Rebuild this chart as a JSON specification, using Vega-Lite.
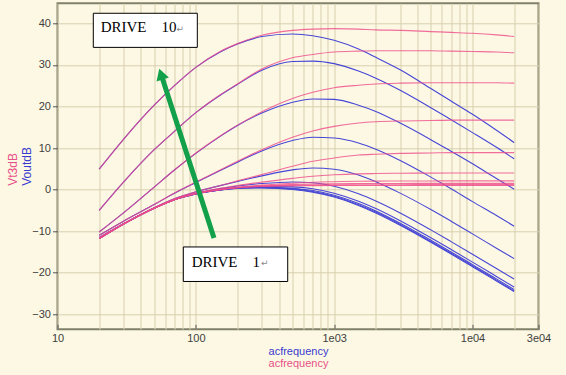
{
"$schema":"https://vega.github.io/schema/vega-lite/v6.json",
"width":481,"height":326,"autosize":"none",
"padding":{"left":57.5,"top":3.3,"right":27.5,"bottom":45.7},
"background":"#fdf8e3",
"config":{"view":{"stroke":"#80806a","strokeWidth":2},"font":"Liberation Sans"},
"datasets":{
"curves":[
{"f":20,"d":10,"s":"Vt3dB","v":4.9},{"f":30,"d":10,"s":"Vt3dB","v":12.1},{"f":50,"d":10,"s":"Vt3dB","v":20.3},{"f":70,"d":10,"s":"Vt3dB","v":25.0},{"f":100,"d":10,"s":"Vt3dB","v":29.4},{"f":150,"d":10,"s":"Vt3dB","v":33.2},{"f":200,"d":10,"s":"Vt3dB","v":35.1},{"f":300,"d":10,"s":"Vt3dB","v":37.1},{"f":500,"d":10,"s":"Vt3dB","v":38.3},{"f":700,"d":10,"s":"Vt3dB","v":38.6},{"f":1000,"d":10,"s":"Vt3dB","v":38.7},{"f":1500,"d":10,"s":"Vt3dB","v":38.6},{"f":2000,"d":10,"s":"Vt3dB","v":38.4},{"f":3000,"d":10,"s":"Vt3dB","v":38.3},{"f":5000,"d":10,"s":"Vt3dB","v":38.0},{"f":7000,"d":10,"s":"Vt3dB","v":37.8},{"f":10000,"d":10,"s":"Vt3dB","v":37.6},{"f":15000,"d":10,"s":"Vt3dB","v":37.2},{"f":20000,"d":10,"s":"Vt3dB","v":36.8},
{"f":20,"d":10,"s":"VoutdB","v":4.9},{"f":30,"d":10,"s":"VoutdB","v":12.1},{"f":50,"d":10,"s":"VoutdB","v":20.3},{"f":70,"d":10,"s":"VoutdB","v":25.0},{"f":100,"d":10,"s":"VoutdB","v":29.4},{"f":150,"d":10,"s":"VoutdB","v":33.1},{"f":200,"d":10,"s":"VoutdB","v":35.0},{"f":300,"d":10,"s":"VoutdB","v":36.8},{"f":500,"d":10,"s":"VoutdB","v":37.4},{"f":700,"d":10,"s":"VoutdB","v":37.0},{"f":1000,"d":10,"s":"VoutdB","v":35.9},{"f":1500,"d":10,"s":"VoutdB","v":33.8},{"f":2000,"d":10,"s":"VoutdB","v":31.8},{"f":3000,"d":10,"s":"VoutdB","v":28.8},{"f":5000,"d":10,"s":"VoutdB","v":24.3},{"f":7000,"d":10,"s":"VoutdB","v":21.3},{"f":10000,"d":10,"s":"VoutdB","v":18.1},{"f":15000,"d":10,"s":"VoutdB","v":14.2},{"f":20000,"d":10,"s":"VoutdB","v":11.3},
{"f":20,"d":9,"s":"Vt3dB","v":-5.0},{"f":30,"d":9,"s":"Vt3dB","v":1.8},{"f":50,"d":9,"s":"Vt3dB","v":9.6},{"f":70,"d":9,"s":"Vt3dB","v":14.0},{"f":100,"d":9,"s":"Vt3dB","v":18.5},{"f":150,"d":9,"s":"Vt3dB","v":22.8},{"f":200,"d":9,"s":"Vt3dB","v":25.4},{"f":300,"d":9,"s":"Vt3dB","v":29.0},{"f":500,"d":9,"s":"Vt3dB","v":31.7},{"f":700,"d":9,"s":"Vt3dB","v":32.5},{"f":1000,"d":9,"s":"Vt3dB","v":33.1},{"f":1500,"d":9,"s":"Vt3dB","v":33.3},{"f":2000,"d":9,"s":"Vt3dB","v":33.4},{"f":3000,"d":9,"s":"Vt3dB","v":33.4},{"f":5000,"d":9,"s":"Vt3dB","v":33.4},{"f":7000,"d":9,"s":"Vt3dB","v":33.3},{"f":10000,"d":9,"s":"Vt3dB","v":33.2},{"f":15000,"d":9,"s":"Vt3dB","v":33.1},{"f":20000,"d":9,"s":"Vt3dB","v":32.9},
{"f":20,"d":9,"s":"VoutdB","v":-5.0},{"f":30,"d":9,"s":"VoutdB","v":1.8},{"f":50,"d":9,"s":"VoutdB","v":9.6},{"f":70,"d":9,"s":"VoutdB","v":14.0},{"f":100,"d":9,"s":"VoutdB","v":18.5},{"f":150,"d":9,"s":"VoutdB","v":22.7},{"f":200,"d":9,"s":"VoutdB","v":25.3},{"f":300,"d":9,"s":"VoutdB","v":28.7},{"f":500,"d":9,"s":"VoutdB","v":30.8},{"f":700,"d":9,"s":"VoutdB","v":30.9},{"f":1000,"d":9,"s":"VoutdB","v":30.3},{"f":1500,"d":9,"s":"VoutdB","v":28.5},{"f":2000,"d":9,"s":"VoutdB","v":26.8},{"f":3000,"d":9,"s":"VoutdB","v":23.9},{"f":5000,"d":9,"s":"VoutdB","v":19.7},{"f":7000,"d":9,"s":"VoutdB","v":16.8},{"f":10000,"d":9,"s":"VoutdB","v":13.7},{"f":15000,"d":9,"s":"VoutdB","v":10.1},{"f":20000,"d":9,"s":"VoutdB","v":7.4},
{"f":20,"d":8,"s":"Vt3dB","v":-10.2},{"f":30,"d":8,"s":"Vt3dB","v":-5.6},{"f":50,"d":8,"s":"Vt3dB","v":0.6},{"f":70,"d":8,"s":"Vt3dB","v":4.7},{"f":100,"d":8,"s":"Vt3dB","v":8.8},{"f":150,"d":8,"s":"Vt3dB","v":12.9},{"f":200,"d":8,"s":"Vt3dB","v":15.5},{"f":300,"d":8,"s":"Vt3dB","v":18.7},{"f":500,"d":8,"s":"Vt3dB","v":21.9},{"f":700,"d":8,"s":"Vt3dB","v":23.4},{"f":1000,"d":8,"s":"Vt3dB","v":24.5},{"f":1500,"d":8,"s":"Vt3dB","v":25.1},{"f":2000,"d":8,"s":"Vt3dB","v":25.4},{"f":3000,"d":8,"s":"Vt3dB","v":25.6},{"f":5000,"d":8,"s":"Vt3dB","v":25.7},{"f":7000,"d":8,"s":"Vt3dB","v":25.7},{"f":10000,"d":8,"s":"Vt3dB","v":25.7},{"f":15000,"d":8,"s":"Vt3dB","v":25.7},{"f":20000,"d":8,"s":"Vt3dB","v":25.6},
{"f":20,"d":8,"s":"VoutdB","v":-10.2},{"f":30,"d":8,"s":"VoutdB","v":-5.6},{"f":50,"d":8,"s":"VoutdB","v":0.6},{"f":70,"d":8,"s":"VoutdB","v":4.7},{"f":100,"d":8,"s":"VoutdB","v":8.7},{"f":150,"d":8,"s":"VoutdB","v":12.8},{"f":200,"d":8,"s":"VoutdB","v":15.4},{"f":300,"d":8,"s":"VoutdB","v":18.4},{"f":500,"d":8,"s":"VoutdB","v":21.0},{"f":700,"d":8,"s":"VoutdB","v":21.8},{"f":1000,"d":8,"s":"VoutdB","v":21.7},{"f":1500,"d":8,"s":"VoutdB","v":20.3},{"f":2000,"d":8,"s":"VoutdB","v":18.8},{"f":3000,"d":8,"s":"VoutdB","v":16.0},{"f":5000,"d":8,"s":"VoutdB","v":12.0},{"f":7000,"d":8,"s":"VoutdB","v":9.2},{"f":10000,"d":8,"s":"VoutdB","v":6.2},{"f":15000,"d":8,"s":"VoutdB","v":2.6},{"f":20000,"d":8,"s":"VoutdB","v":0.1},
{"f":20,"d":7,"s":"Vt3dB","v":-11.0},{"f":30,"d":7,"s":"Vt3dB","v":-7.6},{"f":50,"d":7,"s":"Vt3dB","v":-3.6},{"f":70,"d":7,"s":"Vt3dB","v":-0.8},{"f":100,"d":7,"s":"Vt3dB","v":1.8},{"f":150,"d":7,"s":"Vt3dB","v":4.7},{"f":200,"d":7,"s":"Vt3dB","v":6.8},{"f":300,"d":7,"s":"Vt3dB","v":9.6},{"f":500,"d":7,"s":"Vt3dB","v":12.6},{"f":700,"d":7,"s":"Vt3dB","v":14.1},{"f":1000,"d":7,"s":"Vt3dB","v":15.2},{"f":1500,"d":7,"s":"Vt3dB","v":16.0},{"f":2000,"d":7,"s":"Vt3dB","v":16.3},{"f":3000,"d":7,"s":"Vt3dB","v":16.5},{"f":5000,"d":7,"s":"Vt3dB","v":16.6},{"f":7000,"d":7,"s":"Vt3dB","v":16.7},{"f":10000,"d":7,"s":"Vt3dB","v":16.7},{"f":15000,"d":7,"s":"Vt3dB","v":16.7},{"f":20000,"d":7,"s":"Vt3dB","v":16.7},
{"f":20,"d":7,"s":"VoutdB","v":-11.0},{"f":30,"d":7,"s":"VoutdB","v":-7.6},{"f":50,"d":7,"s":"VoutdB","v":-3.6},{"f":70,"d":7,"s":"VoutdB","v":-0.9},{"f":100,"d":7,"s":"VoutdB","v":1.7},{"f":150,"d":7,"s":"VoutdB","v":4.6},{"f":200,"d":7,"s":"VoutdB","v":6.6},{"f":300,"d":7,"s":"VoutdB","v":9.3},{"f":500,"d":7,"s":"VoutdB","v":11.8},{"f":700,"d":7,"s":"VoutdB","v":12.6},{"f":1000,"d":7,"s":"VoutdB","v":12.4},{"f":1500,"d":7,"s":"VoutdB","v":11.2},{"f":2000,"d":7,"s":"VoutdB","v":9.7},{"f":3000,"d":7,"s":"VoutdB","v":7.0},{"f":5000,"d":7,"s":"VoutdB","v":3.0},{"f":7000,"d":7,"s":"VoutdB","v":0.2},{"f":10000,"d":7,"s":"VoutdB","v":-2.9},{"f":15000,"d":7,"s":"VoutdB","v":-6.3},{"f":20000,"d":7,"s":"VoutdB","v":-8.8},
{"f":20,"d":6,"s":"Vt3dB","v":-11.5},{"f":30,"d":6,"s":"Vt3dB","v":-8.2},{"f":50,"d":6,"s":"Vt3dB","v":-4.35},{"f":70,"d":6,"s":"Vt3dB","v":-2.2},{"f":100,"d":6,"s":"Vt3dB","v":-0.5},{"f":150,"d":6,"s":"Vt3dB","v":1.0},{"f":200,"d":6,"s":"Vt3dB","v":2.1},{"f":300,"d":6,"s":"Vt3dB","v":3.6},{"f":500,"d":6,"s":"Vt3dB","v":5.6},{"f":700,"d":6,"s":"Vt3dB","v":6.8},{"f":1000,"d":6,"s":"Vt3dB","v":7.6},{"f":1500,"d":6,"s":"Vt3dB","v":8.3},{"f":2000,"d":6,"s":"Vt3dB","v":8.5},{"f":3000,"d":6,"s":"Vt3dB","v":8.7},{"f":5000,"d":6,"s":"Vt3dB","v":8.8},{"f":7000,"d":6,"s":"Vt3dB","v":8.9},{"f":10000,"d":6,"s":"Vt3dB","v":8.9},{"f":15000,"d":6,"s":"Vt3dB","v":8.9},{"f":20000,"d":6,"s":"Vt3dB","v":8.9},
{"f":20,"d":6,"s":"VoutdB","v":-11.5},{"f":30,"d":6,"s":"VoutdB","v":-8.2},{"f":50,"d":6,"s":"VoutdB","v":-4.35},{"f":70,"d":6,"s":"VoutdB","v":-2.2},{"f":100,"d":6,"s":"VoutdB","v":-0.55},{"f":150,"d":6,"s":"VoutdB","v":0.95},{"f":200,"d":6,"s":"VoutdB","v":1.95},{"f":300,"d":6,"s":"VoutdB","v":3.3},{"f":500,"d":6,"s":"VoutdB","v":4.75},{"f":700,"d":6,"s":"VoutdB","v":5.2},{"f":1000,"d":6,"s":"VoutdB","v":4.9},{"f":1500,"d":6,"s":"VoutdB","v":3.5},{"f":2000,"d":6,"s":"VoutdB","v":1.9},{"f":3000,"d":6,"s":"VoutdB","v":-0.85},{"f":5000,"d":6,"s":"VoutdB","v":-4.8},{"f":7000,"d":6,"s":"VoutdB","v":-7.6},{"f":10000,"d":6,"s":"VoutdB","v":-10.65},{"f":15000,"d":6,"s":"VoutdB","v":-14.15},{"f":20000,"d":6,"s":"VoutdB","v":-16.6},
{"f":20,"d":5,"s":"Vt3dB","v":-11.8},{"f":30,"d":5,"s":"Vt3dB","v":-8.28},{"f":50,"d":5,"s":"Vt3dB","v":-4.45},{"f":70,"d":5,"s":"Vt3dB","v":-2.35},{"f":100,"d":5,"s":"Vt3dB","v":-0.84},{"f":150,"d":5,"s":"Vt3dB","v":0.33},{"f":200,"d":5,"s":"Vt3dB","v":1.0},{"f":300,"d":5,"s":"Vt3dB","v":1.8},{"f":500,"d":5,"s":"Vt3dB","v":2.7},{"f":700,"d":5,"s":"Vt3dB","v":3.2},{"f":1000,"d":5,"s":"Vt3dB","v":3.55},{"f":1500,"d":5,"s":"Vt3dB","v":3.78},{"f":2000,"d":5,"s":"Vt3dB","v":3.86},{"f":3000,"d":5,"s":"Vt3dB","v":3.94},{"f":5000,"d":5,"s":"Vt3dB","v":3.97},{"f":7000,"d":5,"s":"Vt3dB","v":3.98},{"f":10000,"d":5,"s":"Vt3dB","v":3.99},{"f":15000,"d":5,"s":"Vt3dB","v":4.0},{"f":20000,"d":5,"s":"Vt3dB","v":4.0},
{"f":20,"d":5,"s":"VoutdB","v":-11.8},{"f":30,"d":5,"s":"VoutdB","v":-8.28},{"f":50,"d":5,"s":"VoutdB","v":-4.45},{"f":70,"d":5,"s":"VoutdB","v":-2.37},{"f":100,"d":5,"s":"VoutdB","v":-0.88},{"f":150,"d":5,"s":"VoutdB","v":0.24},{"f":200,"d":5,"s":"VoutdB","v":0.86},{"f":300,"d":5,"s":"VoutdB","v":1.46},{"f":500,"d":5,"s":"VoutdB","v":1.84},{"f":700,"d":5,"s":"VoutdB","v":1.65},{"f":1000,"d":5,"s":"VoutdB","v":0.79},{"f":1500,"d":5,"s":"VoutdB","v":-1.0},{"f":2000,"d":5,"s":"VoutdB","v":-2.73},{"f":3000,"d":5,"s":"VoutdB","v":-5.61},{"f":5000,"d":5,"s":"VoutdB","v":-9.69},{"f":7000,"d":5,"s":"VoutdB","v":-12.51},{"f":10000,"d":5,"s":"VoutdB","v":-15.55},{"f":15000,"d":5,"s":"VoutdB","v":-19.04},{"f":20000,"d":5,"s":"VoutdB","v":-21.53},
{"f":20,"d":4,"s":"Vt3dB","v":-11.8},{"f":30,"d":4,"s":"Vt3dB","v":-8.29},{"f":50,"d":4,"s":"Vt3dB","v":-4.48},{"f":70,"d":4,"s":"Vt3dB","v":-2.41},{"f":100,"d":4,"s":"Vt3dB","v":-0.96},{"f":150,"d":4,"s":"Vt3dB","v":0.08},{"f":200,"d":4,"s":"Vt3dB","v":0.61},{"f":300,"d":4,"s":"Vt3dB","v":1.08},{"f":500,"d":4,"s":"Vt3dB","v":1.53},{"f":700,"d":4,"s":"Vt3dB","v":1.77},{"f":1000,"d":4,"s":"Vt3dB","v":1.9},{"f":1500,"d":4,"s":"Vt3dB","v":2.0},{"f":2000,"d":4,"s":"Vt3dB","v":2.04},{"f":3000,"d":4,"s":"Vt3dB","v":2.07},{"f":5000,"d":4,"s":"Vt3dB","v":2.08},{"f":7000,"d":4,"s":"Vt3dB","v":2.09},{"f":10000,"d":4,"s":"Vt3dB","v":2.1},{"f":15000,"d":4,"s":"Vt3dB","v":2.1},{"f":20000,"d":4,"s":"Vt3dB","v":2.1},
{"f":20,"d":4,"s":"VoutdB","v":-11.8},{"f":30,"d":4,"s":"VoutdB","v":-8.29},{"f":50,"d":4,"s":"VoutdB","v":-4.48},{"f":70,"d":4,"s":"VoutdB","v":-2.43},{"f":100,"d":4,"s":"VoutdB","v":-1.0},{"f":150,"d":4,"s":"VoutdB","v":-0.01},{"f":200,"d":4,"s":"VoutdB","v":0.46},{"f":300,"d":4,"s":"VoutdB","v":0.75},{"f":500,"d":4,"s":"VoutdB","v":0.66},{"f":700,"d":4,"s":"VoutdB","v":0.2},{"f":1000,"d":4,"s":"VoutdB","v":-0.86},{"f":1500,"d":4,"s":"VoutdB","v":-2.78},{"f":2000,"d":4,"s":"VoutdB","v":-4.55},{"f":3000,"d":4,"s":"VoutdB","v":-7.48},{"f":5000,"d":4,"s":"VoutdB","v":-11.58},{"f":7000,"d":4,"s":"VoutdB","v":-14.4},{"f":10000,"d":4,"s":"VoutdB","v":-17.44},{"f":15000,"d":4,"s":"VoutdB","v":-20.94},{"f":20000,"d":4,"s":"VoutdB","v":-23.43},
{"f":20,"d":3,"s":"Vt3dB","v":-11.8},{"f":30,"d":3,"s":"Vt3dB","v":-8.3},{"f":50,"d":3,"s":"Vt3dB","v":-4.49},{"f":70,"d":3,"s":"Vt3dB","v":-2.42},{"f":100,"d":3,"s":"Vt3dB","v":-0.99},{"f":150,"d":3,"s":"Vt3dB","v":0.02},{"f":200,"d":3,"s":"Vt3dB","v":0.5},{"f":300,"d":3,"s":"Vt3dB","v":0.89},{"f":500,"d":3,"s":"Vt3dB","v":1.2},{"f":700,"d":3,"s":"Vt3dB","v":1.34},{"f":1000,"d":3,"s":"Vt3dB","v":1.4},{"f":1500,"d":3,"s":"Vt3dB","v":1.45},{"f":2000,"d":3,"s":"Vt3dB","v":1.46},{"f":3000,"d":3,"s":"Vt3dB","v":1.48},{"f":5000,"d":3,"s":"Vt3dB","v":1.49},{"f":7000,"d":3,"s":"Vt3dB","v":1.5},{"f":10000,"d":3,"s":"Vt3dB","v":1.5},{"f":15000,"d":3,"s":"Vt3dB","v":1.5},{"f":20000,"d":3,"s":"Vt3dB","v":1.5},
{"f":20,"d":3,"s":"VoutdB","v":-11.8},{"f":30,"d":3,"s":"VoutdB","v":-8.3},{"f":50,"d":3,"s":"VoutdB","v":-4.49},{"f":70,"d":3,"s":"VoutdB","v":-2.44},{"f":100,"d":3,"s":"VoutdB","v":-1.03},{"f":150,"d":3,"s":"VoutdB","v":-0.07},{"f":200,"d":3,"s":"VoutdB","v":0.35},{"f":300,"d":3,"s":"VoutdB","v":0.56},{"f":500,"d":3,"s":"VoutdB","v":0.33},{"f":700,"d":3,"s":"VoutdB","v":-0.23},{"f":1000,"d":3,"s":"VoutdB","v":-1.36},{"f":1500,"d":3,"s":"VoutdB","v":-3.33},{"f":2000,"d":3,"s":"VoutdB","v":-5.13},{"f":3000,"d":3,"s":"VoutdB","v":-8.07},{"f":5000,"d":3,"s":"VoutdB","v":-12.17},{"f":7000,"d":3,"s":"VoutdB","v":-14.99},{"f":10000,"d":3,"s":"VoutdB","v":-18.04},{"f":15000,"d":3,"s":"VoutdB","v":-21.54},{"f":20000,"d":3,"s":"VoutdB","v":-24.03},
{"f":20,"d":2,"s":"Vt3dB","v":-11.8},{"f":30,"d":2,"s":"Vt3dB","v":-8.3},{"f":50,"d":2,"s":"Vt3dB","v":-4.49},{"f":70,"d":2,"s":"Vt3dB","v":-2.43},{"f":100,"d":2,"s":"Vt3dB","v":-1.0},{"f":150,"d":2,"s":"Vt3dB","v":0.0},{"f":200,"d":2,"s":"Vt3dB","v":0.46},{"f":300,"d":2,"s":"Vt3dB","v":0.81},{"f":500,"d":2,"s":"Vt3dB","v":1.04},{"f":700,"d":2,"s":"Vt3dB","v":1.1},{"f":1000,"d":2,"s":"Vt3dB","v":1.14},{"f":1500,"d":2,"s":"Vt3dB","v":1.16},{"f":2000,"d":2,"s":"Vt3dB","v":1.17},{"f":3000,"d":2,"s":"Vt3dB","v":1.18},{"f":5000,"d":2,"s":"Vt3dB","v":1.19},{"f":7000,"d":2,"s":"Vt3dB","v":1.2},{"f":10000,"d":2,"s":"Vt3dB","v":1.2},{"f":15000,"d":2,"s":"Vt3dB","v":1.2},{"f":20000,"d":2,"s":"Vt3dB","v":1.2},
{"f":20,"d":2,"s":"VoutdB","v":-11.8},{"f":30,"d":2,"s":"VoutdB","v":-8.3},{"f":50,"d":2,"s":"VoutdB","v":-4.49},{"f":70,"d":2,"s":"VoutdB","v":-2.45},{"f":100,"d":2,"s":"VoutdB","v":-1.04},{"f":150,"d":2,"s":"VoutdB","v":-0.09},{"f":200,"d":2,"s":"VoutdB","v":0.31},{"f":300,"d":2,"s":"VoutdB","v":0.48},{"f":500,"d":2,"s":"VoutdB","v":0.17},{"f":700,"d":2,"s":"VoutdB","v":-0.47},{"f":1000,"d":2,"s":"VoutdB","v":-1.62},{"f":1500,"d":2,"s":"VoutdB","v":-3.62},{"f":2000,"d":2,"s":"VoutdB","v":-5.42},{"f":3000,"d":2,"s":"VoutdB","v":-8.37},{"f":5000,"d":2,"s":"VoutdB","v":-12.47},{"f":7000,"d":2,"s":"VoutdB","v":-15.29},{"f":10000,"d":2,"s":"VoutdB","v":-18.34},{"f":15000,"d":2,"s":"VoutdB","v":-21.84},{"f":20000,"d":2,"s":"VoutdB","v":-24.33},
{"f":20,"d":1,"s":"Vt3dB","v":-11.8},{"f":30,"d":1,"s":"Vt3dB","v":-8.3},{"f":50,"d":1,"s":"Vt3dB","v":-4.5},{"f":70,"d":1,"s":"Vt3dB","v":-2.43},{"f":100,"d":1,"s":"Vt3dB","v":-1.01},{"f":150,"d":1,"s":"Vt3dB","v":-0.02},{"f":200,"d":1,"s":"Vt3dB","v":0.43},{"f":300,"d":1,"s":"Vt3dB","v":0.75},{"f":500,"d":1,"s":"Vt3dB","v":0.9},{"f":700,"d":1,"s":"Vt3dB","v":0.95},{"f":1000,"d":1,"s":"Vt3dB","v":0.97},{"f":1500,"d":1,"s":"Vt3dB","v":0.98},{"f":2000,"d":1,"s":"Vt3dB","v":0.98},{"f":3000,"d":1,"s":"Vt3dB","v":0.99},{"f":5000,"d":1,"s":"Vt3dB","v":1.0},{"f":7000,"d":1,"s":"Vt3dB","v":1.0},{"f":10000,"d":1,"s":"Vt3dB","v":1.0},{"f":15000,"d":1,"s":"Vt3dB","v":1.0},{"f":20000,"d":1,"s":"Vt3dB","v":1.0},
{"f":20,"d":1,"s":"VoutdB","v":-11.8},{"f":30,"d":1,"s":"VoutdB","v":-8.3},{"f":50,"d":1,"s":"VoutdB","v":-4.5},{"f":70,"d":1,"s":"VoutdB","v":-2.45},{"f":100,"d":1,"s":"VoutdB","v":-1.05},{"f":150,"d":1,"s":"VoutdB","v":-0.11},{"f":200,"d":1,"s":"VoutdB","v":0.28},{"f":300,"d":1,"s":"VoutdB","v":0.42},{"f":500,"d":1,"s":"VoutdB","v":0.03},{"f":700,"d":1,"s":"VoutdB","v":-0.62},{"f":1000,"d":1,"s":"VoutdB","v":-1.79},{"f":1500,"d":1,"s":"VoutdB","v":-3.8},{"f":2000,"d":1,"s":"VoutdB","v":-5.61},{"f":3000,"d":1,"s":"VoutdB","v":-8.56},{"f":5000,"d":1,"s":"VoutdB","v":-12.66},{"f":7000,"d":1,"s":"VoutdB","v":-15.49},{"f":10000,"d":1,"s":"VoutdB","v":-18.54},{"f":15000,"d":1,"s":"VoutdB","v":-22.04},{"f":20000,"d":1,"s":"VoutdB","v":-24.53}
],
"arrow":[{"f1":135.3,"v1":-11.65,"f2":56.9,"v2":27.1}],
"head":[{"f":56.0,"v":27.75}],
"boxes":[{"f1":18.15,"f2":102.5,"v1":42.4,"v2":34.2},{"f1":81.2,"f2":461.5,"v1":-13.8,"v2":-22.1}],
"labels":[{"f":20.5,"v":37.8,"t":"DRIVE　10"},{"f":93.3,"v":-18.5,"t":"DRIVE　1"}],
"returns":[{"f":72.5,"v":38.0,"t":"↵"},{"f":296,"v":-18.3,"t":"↵"}]
},
"layer":[
{"data":{"name":"curves"},"transform":[{"filter":"datum.s == 'VoutdB'"}],
 "mark":{"type":"line","color":"#4646d6","strokeWidth":1.1,"interpolate":"monotone"},
 "encoding":{
  "x":{"field":"f","type":"quantitative","scale":{"type":"log","domain":[10,30000],"nice":false},
   "axis":{"values":[10,20,30,40,50,60,70,80,90,100,200,300,400,500,600,700,800,900,1000,2000,3000,4000,5000,6000,7000,8000,9000,10000,20000,30000],
    "labelExpr":"datum.value==10?'10':datum.value==100?'100':datum.value==1000?'1e03':datum.value==10000?'1e04':datum.value==30000?'3e04':''",
    "labelOverlap":false,"labelFlush":false,"grid":true,"gridColor":"#d8cfae","gridWidth":1,"domain":false,
    "tickSize":-5,"tickColor":{"condition":{"test":"indexof([10,100,1000,10000,30000], datum.value) >= 0","value":"#555555"},"value":"transparent"},
    "labelPadding":8,"labelFontSize":11,"labelColor":"#404040",
    "title":"acfrequency","titleColor":"#3a3ad0","titleFontSize":11,"titleFontWeight":"normal","titleY":25,"titleBaseline":"alphabetic"}},
  "y":{"field":"v","type":"quantitative","scale":{"domain":[-33.6,44.8],"nice":false,"zero":false},
   "axis":{"values":[-30,-20,-10,0,10,20,30,40],"grid":true,"gridColor":"#d8cfae","domain":false,"tickSize":5,"tickColor":"#555555",
    "labelPadding":2,"labelFontSize":11,"labelColor":"#404040",
    "title":"VoutdB","titleColor":"#3a3ad0","titleFontSize":12,"titleFontWeight":"normal","titleAngle":-90,"titleX":-31,"titleY":182,"titleAlign":"left","titleBaseline":"middle"}},
  "detail":{"field":"d","type":"nominal"}}},
{"data":{"name":"curves"},"transform":[{"filter":"datum.s == 'Vt3dB'"}],
 "mark":{"type":"line","color":"#ee4a8a","strokeWidth":1.1,"opacity":0.8,"interpolate":"monotone"},
 "encoding":{
  "x":{"field":"f","type":"quantitative","scale":{"type":"log","domain":[10,30000],"nice":false},
   "axis":{"orient":"bottom","labels":false,"ticks":false,"grid":false,"domain":false,
    "title":"acfrequency","titleColor":"#e8508a","titleFontSize":11,"titleFontWeight":"normal","titleY":37,"titleBaseline":"alphabetic"}},
  "y":{"field":"v","type":"quantitative","scale":{"domain":[-33.6,44.8],"nice":false,"zero":false},
   "axis":{"orient":"left","labels":false,"ticks":false,"grid":false,"domain":false,
    "title":"Vt3dB","titleColor":"#e8508a","titleFontSize":12,"titleFontWeight":"normal","titleAngle":-90,"titleX":-45,"titleY":182,"titleAlign":"left","titleBaseline":"middle"}},
  "detail":{"field":"d","type":"nominal"}}},
{"data":{"name":"arrow"},"mark":{"type":"rule","color":"#12a04a","strokeWidth":5},
 "encoding":{"x":{"field":"f1","type":"quantitative","scale":{"type":"log","domain":[10,30000],"nice":false},"axis":null},
  "y":{"field":"v1","type":"quantitative","scale":{"domain":[-33.6,44.8],"nice":false,"zero":false},"axis":null},
  "x2":{"field":"f2"},"y2":{"field":"v2"}}},
{"data":{"name":"head"},"mark":{"type":"point","shape":"triangle-up","size":169,"angle":342,"filled":true,"color":"#12a04a","opacity":1},
 "encoding":{"x":{"field":"f","type":"quantitative","scale":{"type":"log","domain":[10,30000],"nice":false},"axis":null},
  "y":{"field":"v","type":"quantitative","scale":{"domain":[-33.6,44.8],"nice":false,"zero":false},"axis":null}}},
{"data":{"name":"boxes"},"mark":{"type":"rect","fill":"#ffffff","stroke":"#000000","strokeWidth":1},
 "encoding":{"x":{"field":"f1","type":"quantitative","scale":{"type":"log","domain":[10,30000],"nice":false},"axis":null},
  "y":{"field":"v1","type":"quantitative","scale":{"domain":[-33.6,44.8],"nice":false,"zero":false},"axis":null},
  "x2":{"field":"f2"},"y2":{"field":"v2"}}},
{"data":{"name":"labels"},"mark":{"type":"text","align":"left","baseline":"alphabetic","font":"Liberation Serif","fontSize":15,"color":"#000000"},
 "encoding":{"x":{"field":"f","type":"quantitative","scale":{"type":"log","domain":[10,30000],"nice":false},"axis":null},
  "y":{"field":"v","type":"quantitative","scale":{"domain":[-33.6,44.8],"nice":false,"zero":false},"axis":null},
  "text":{"field":"t"}}},
{"data":{"name":"returns"},"mark":{"type":"text","align":"left","baseline":"alphabetic","font":"DejaVu Sans","fontSize":9,"color":"#888888"},
 "encoding":{"x":{"field":"f","type":"quantitative","scale":{"type":"log","domain":[10,30000],"nice":false},"axis":null},
  "y":{"field":"v","type":"quantitative","scale":{"domain":[-33.6,44.8],"nice":false,"zero":false},"axis":null},
  "text":{"field":"t"}}}
],
"resolve":{"axis":{"x":"independent","y":"independent"}}
}
